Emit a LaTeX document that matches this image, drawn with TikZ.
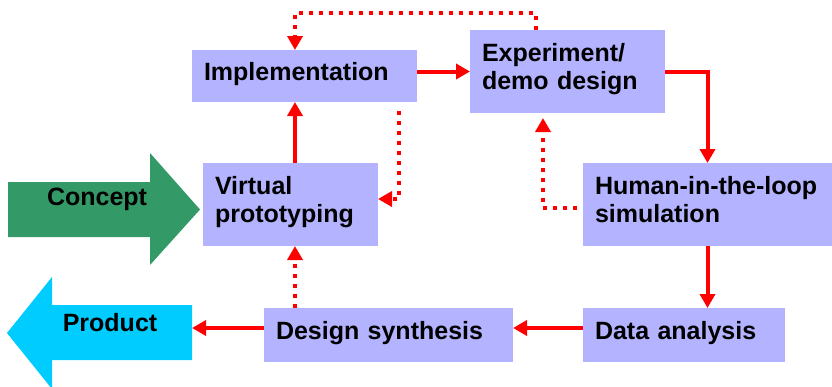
\documentclass[tikz,border=0pt]{standalone}
\usepackage{fontspec}
\setmainfont{Liberation Sans}
\usetikzlibrary{positioning, arrows.meta}
\definecolor{boxblue}{RGB}{179,179,255}
\definecolor{conceptgreen}{RGB}{51,153,102}
\definecolor{productcyan}{RGB}{0,204,255}

\begin{document}
\begin{tikzpicture}[x=1pt, y=-1pt,
  stage/.style={fill=boxblue, inner xsep=12pt, inner ysep=0pt,
    outer sep=0pt, align=left,
    font=\fontsize{25}{28}\selectfont\bfseries,
    execute at end node={\rule[-10pt]{0pt}{10pt}}},
  flow/.style={red, line width=4pt,
    -{Triangle[length=14pt,width=15pt]}},
  feedback/.style={red, line width=4pt, dash pattern=on 4pt off 6pt,
    -{Triangle[length=14pt,width=15pt]}},
  bigarrow/.style={font=\fontsize{25}{28}\selectfont\bfseries}]
  \useasboundingbox (0,0) rectangle (832,386);

  % boxes
  \node[stage, text width=201pt, minimum height=52pt] (impl) at (304.5,76)
  {Implementation};
  \node[stage, text width=171pt, minimum height=83pt] (exper) at (567.5,71.5)
  {Experiment/\\demo design};
  \node[stage, text width=151pt, minimum height=83pt] (virt) at (290.5,204.5)
  {Virtual\\prototyping};
  \node[stage, text width=225pt, minimum height=83pt] (hitl) at (707.5,204.5)
  {Human-in-the-loop\\simulation};
  \node[stage, text width=178pt, minimum height=54pt] (data) at (684,335)
  {Data analysis};
  \node[stage, text width=225pt, minimum height=54pt] (synth) at (388.5,335)
  {Design synthesis};

  % big in/out arrows
  \fill[conceptgreen] (8,182) -- (150,182) -- (150,153) -- (200,209.5)
  -- (150,265) -- (150,237) -- (8,237) -- cycle;
  \node[bigarrow] (concept) at (97,199) {Concept};
  \fill[productcyan] (192,305) -- (52,305) -- (52,277) -- (7,333)
  -- (52,389) -- (52,360) -- (192,360) -- cycle;
  \node[bigarrow] (product) at (110,323) {Product};
  \coordinate (prodend) at (192,328);

  % main flow
  \coordinate (colA) at (295,0);
  \draw[flow] (impl.east |- exper.west) -- (exper.west);
  \draw[flow] (exper.east) -| (hitl.north);
  \draw[flow] (hitl.south) -- (hitl.south |- data.north);
  \draw[flow] ([yshift=7pt]data.west) -- ([yshift=7pt]synth.east);
  \draw[flow] ([yshift=7pt]synth.west) -- (prodend);
  \draw[flow] (virt.north -| colA) -- (impl.south -| colA);

  % feedback loops (dotted)
  \coordinate (loopR) at (536,13);
  \coordinate (loopL) at (295,13);
  \draw[feedback] (exper.north -| loopR) -- (loopR) -- (loopL)
  -- (impl.north -| loopL);
  \coordinate (dropA) at (399,199);
  \draw[feedback, shorten <=9pt] (impl.south -| dropA) -- (dropA)
  -- (virt.east |- dropA);
  \coordinate (riseB) at (543,208);
  \draw[feedback, shorten <=6pt, shorten >=5pt] (hitl.west |- riseB)
  -- (riseB) -- (exper.south -| riseB);
  \draw[feedback] (synth.north -| colA) -- (virt.south -| colA);
\end{tikzpicture}
\end{document}
